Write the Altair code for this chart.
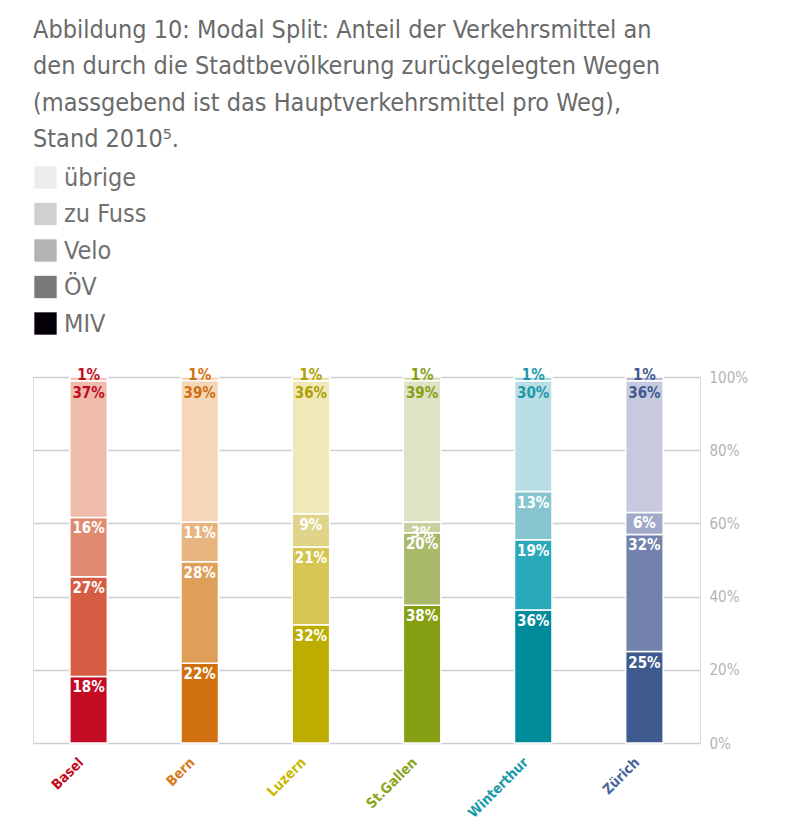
import altair as alt
import pandas as pd

cities = ["Basel", "Bern", "Luzern", "St.Gallen", "Winterthur", "Zürich"]
modes = ["MIV", "ÖV", "Velo", "zu Fuss", "übrige"]
miv = [18, 22, 32, 38, 36, 25]
oev = [27, 28, 21, 20, 19, 32]
velo = [16, 11, 9, 3, 13, 6]
fuss = [37, 39, 36, 39, 30, 36]
uebrige = [1, 1, 1, 1, 1, 1]
legend_order = ["übrige", "zu Fuss", "Velo", "ÖV", "MIV"]
y_ticks = [0, 0.2, 0.4, 0.6, 0.8, 1.0]

title_lines = [
    "Abbildung 10: Modal Split: Anteil der Verkehrsmittel an",
    "den durch die Stadtbevölkerung zurückgelegten Wegen",
    "(massgebend ist das Hauptverkehrsmittel pro Weg),",
    "Stand 2010⁵.",
]

# shades per city: MIV, ÖV, Velo, zu Fuss, übrige
city_shades = {
    "Basel": ["#c30c23", "#d75c44", "#e08a72", "#efbcab", "#f2c4b6"],
    "Bern": ["#d0700f", "#e09f58", "#e8b480", "#f5d6b7", "#f3cfac"],
    "Luzern": ["#bdad00", "#d5c653", "#e0d48a", "#efe8b8", "#e9e0a2"],
    "St.Gallen": ["#86a014", "#a9b96a", "#c7d0a0", "#dde3c4", "#d0d9ac"],
    "Winterthur": ["#008b9b", "#2aa9ba", "#86c5cf", "#b9dee5", "#a9d6de"],
    "Zürich": ["#3f5a8e", "#7381ad", "#a2aacb", "#c7cade", "#b5bbd6"],
}
label_colors = ["#c30c23", "#d0700f", "#b0a000", "#86a014", "#1a9aa8", "#3f5a8e"]
legend_colors = ["#ededed", "#d0d0d0", "#b3b3b3", "#79797b", "#050008"]

series = [miv, oev, velo, fuss, uebrige]
rows = []
for i, c in enumerate(cities):
    for j, m in enumerate(modes):
        rows.append({"city": c, "mode": m, "value": series[j][i], "order": j})
df = pd.DataFrame(rows)

keys = [f"{c}|{m}" for c in cities for m in modes]
key_colors = [city_shades[c][j] for c in cities for j in range(len(modes))]

FONT = "DejaVu Sans Condensed, DejaVu Sans"

x_enc = alt.X(
    "city:N",
    sort=cities,
    title=None,
    scale=alt.Scale(paddingInner=0.663, paddingOuter=0.3315),
    axis=alt.Axis(
        labelAngle=-45,
        labelAlign="right",
        labelBaseline="middle",
        labelPadding=17,
        labelOffset=-7,
        ticks=False,
        tickSize=0,
        domain=False,
        grid=False,
        labelFont=FONT,
        labelFontSize=14,
        labelFontWeight="bold",
        labelColor=alt.ExprRef(
            expr="{'Basel':'#c30c23','Bern':'#d97a1a','Luzern':'#c8b800','St.Gallen':'#8aa41e','Winterthur':'#1a9aa8','Zürich':'#4a649a'}[datum.value]"
        ),
    ),
)
y_enc = alt.Y(
    "y1:Q",
    title=None,
    scale=alt.Scale(domain=[0, 1], nice=False),
    axis=alt.Axis(
        orient="right",
        values=y_ticks,
        format="%",
        grid=True,
        gridColor="#cdcdd4",
        gridWidth=1.6,
        domain=False,
        ticks=False,
        labelPadding=9,
        labelFont=FONT,
        labelFontSize=15,
        labelColor="#b4b4b4",
    ),
)

base = (
    alt.Chart(df)
    .transform_joinaggregate(total="sum(value)", groupby=["city"])
    .transform_calculate(
        frac="datum.value / datum.total",
        key="datum.city + '|' + datum.mode",
        label="datum.value + '%'",
    )
    .transform_stack(
        stack="frac", groupby=["city"], as_=["y0", "y1"], sort=[alt.SortField("order")]
    )
)

bars = base.mark_bar(stroke="white", strokeWidth=1.5).encode(
    x=x_enc,
    y=y_enc,
    y2="y0:Q",
    color=alt.Color("key:N", scale=alt.Scale(domain=keys, range=key_colors), legend=None),
)

txt_style = dict(font=FONT, fontSize=15, fontWeight="bold")

txt_white = (
    base.transform_filter("datum.order <= 2")
    .mark_text(baseline="top", dy=4, color="white", **txt_style)
    .encode(x=alt.X("city:N", sort=cities), y="y1:Q", text="label:N")
)
txt_fuss = (
    base.transform_filter("datum.order == 3")
    .mark_text(baseline="top", dy=5, **txt_style)
    .encode(
        x=alt.X("city:N", sort=cities),
        y="y1:Q",
        text="label:N",
        color=alt.Color("city:N", scale=alt.Scale(domain=cities, range=label_colors), legend=None),
    )
)
txt_ueb = (
    base.transform_filter("datum.order == 4")
    .mark_text(baseline="middle", dy=-2, **txt_style)
    .encode(
        x=alt.X("city:N", sort=cities),
        y="y1:Q",
        text="label:N",
        color=alt.Color("city:N", scale=alt.Scale(domain=cities, range=label_colors), legend=None),
    )
)

legend_layer = (
    alt.Chart(pd.DataFrame({"mode": legend_order}))
    .mark_square(size=0, opacity=1)
    .encode(
        color=alt.Color(
            "mode:N",
            scale=alt.Scale(domain=legend_order, range=legend_colors),
            legend=alt.Legend(
                title=None,
                orient="none",
                legendX=0,
                legendY=-212,
                direction="vertical",
                symbolType="square",
                symbolSize=500,
                symbolStrokeWidth=0,
                symbolOpacity=1,
                labelFont=FONT,
                labelFontSize=25,
                labelColor="#707070",
                labelOffset=6,
                rowPadding=10.5,
            ),
        )
    )
)

chart = (
    alt.layer(bars, txt_white, txt_fuss, txt_ueb, legend_layer)
    .resolve_scale(color="independent")
    .properties(
        width=667,
        height=366,
        padding={"left": 25, "top": 9, "right": 5, "bottom": 5},
        title=alt.Title(
            text=title_lines,
            anchor="start",
            frame="group",
            font=FONT,
            fontSize=25,
            fontWeight="normal",
            color="#6a6a6a",
            lineHeight=36.5,
            offset=13,
        ),
    )
    .configure_view(stroke=None)
    .configure(background="white")
)

chart.save("out.html", embed_options={"renderer": "svg", "actions": False})
